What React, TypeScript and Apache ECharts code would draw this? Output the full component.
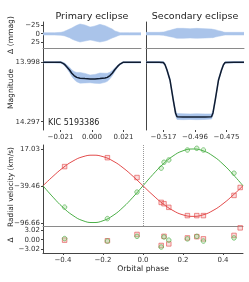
import React, { useEffect, useRef } from "react";
import * as echarts from "echarts";

// ---------- data ----------
// Primary eclipse: phase grid, model magnitude, residual envelope (mmag)
const P_PH = [-0.0327, -0.025, -0.0207, -0.019, -0.018, -0.0169, -0.015, -0.0135, -0.012, -0.0102, -0.008, -0.0047, -0.0013, 0, 0.002, 0.0053, 0.0087, 0.0102, 0.012, 0.0135, 0.0153, 0.0169, 0.0187, 0.0207, 0.025, 0.0327];
const P_MAG = [13.998, 13.998, 13.998, 14.005, 14.011, 14.02, 14.037, 14.053, 14.065, 14.074, 14.078, 14.08, 14.082, 14.082, 14.082, 14.08, 14.077, 14.074, 14.065, 14.053, 14.034, 14.02, 14.007, 13.998, 13.998, 13.998];
const P_RES_NEG = [-3, -3, -4, -6, -8, -10, -14, -17, -21, -25, -29, -26, -20, -21, -23, -28, -24, -21, -17, -14, -8, -6, -3, -3, -3, -3];
const P_RES_POS = [4, 4, 5, 6, 7, 9, 12, 16, 19, 22, 25, 22, 19, 20, 22, 25, 22, 20, 16, 13, 10, 7, 4, 4, 4, 4];

// Secondary eclipse
const S_PH = [-0.5287, -0.52, -0.5171, -0.516, -0.5147, -0.5127, -0.5105, -0.509, -0.508, -0.504, -0.4993, -0.495, -0.4893, -0.485, -0.484, -0.4825, -0.4803, -0.4783, -0.477, -0.4759, -0.47, -0.4633];
const S_MAG = [13.998, 13.998, 13.999, 14.01, 14.037, 14.087, 14.188, 14.253, 14.272, 14.273, 14.273, 14.273, 14.273, 14.272, 14.253, 14.188, 14.087, 14.037, 14.01, 13.999, 13.998, 13.998];
const S_RES_NEG = [-4, -4, -5, -6, -8, -10, -13, -15, -16, -16, -15, -16, -15, -14, -13, -12, -9, -7, -5, -4, -4, -4];
const S_RES_POS = [4, 4, 5, 6, 7, 9, 11, 13, 14, 14, 13, 14, 13, 12, 12, 10, 8, 6, 5, 4, 4, 4];

// Radial velocity model curves
const RV_PH = [-0.5, -0.45, -0.4, -0.35, -0.3, -0.25, -0.2, -0.15, -0.1, -0.05, 0, 0.05, 0.1, 0.15, 0.2, 0.25, 0.3, 0.35, 0.4, 0.45, 0.5];
const RV_RED = [-39.46, -24.94, -11.82, -1.44, 5.24, 7.54, 5.24, -1.44, -11.82, -24.94, -39.46, -53.98, -67.1, -77.48, -84.16, -86.46, -84.16, -77.48, -67.1, -53.98, -39.46];
const RV_GREEN = [-39.46, -56.92, -72.68, -85.17, -93.19, -95.96, -93.19, -85.17, -72.68, -56.92, -39.46, -22.0, -6.24, 6.25, 14.27, 17.04, 14.27, 6.25, -6.24, -22.0, -39.46];

// Observations
const OBS_RED_PH = [-0.392, -0.178, -0.03, 0.091, 0.105, 0.129, 0.222, 0.269, 0.302, 0.455, 0.486];
const OBS_RED_RV = [-10.0, 3.7, -26.8, -65.0, -67.0, -72.6, -85.3, -85.3, -85.3, -54.3, -42.1];
const OBS_RED_RES = [-0.2, -0.4, 1.6, -1.9, 1.0, -1.4, 0.5, 0.9, 0.2, 1.3, 3.7];
const OBS_GREEN_PH = [-0.392, -0.178, -0.03, 0.091, 0.105, 0.129, 0.222, 0.269, 0.302, 0.455];
const OBS_GREEN_RV = [-72.3, -89.9, -49.1, -12.4, -3.3, 0.2, 15.5, 18.1, 15.5, -20.1];
const OBS_GREEN_RES = [0.3, -0.5, 1.0, -2.4, 0.8, -0.2, 0.2, 1.0, -0.5, 0.5];

// Tick labels
const P_XTICKS = [-0.021, 0, 0.021];
const S_XTICKS = [-0.517, -0.496, -0.475];
const RES_YTICKS = [-25, 0, 25];
const MAG_YTICKS = [13.998, 14.297];
const RV_YTICKS = [17.03, -39.46, -96.66];
const RVRES_YTICKS = [3.02, 0, -3.02];
const PH_XTICKS = [-0.4, -0.2, 0, 0.2, 0.4];

// ---------- styles ----------
const FONT = "DejaVu Sans";
const BAND = "#aac4ea";
const MODEL = "#101c30";
const RED = "#e24b4b";
const GREEN = "#4caf48";
const SPINE = "#444";
const SEP = "#8a8a8a";

const minus = (s: string) => s.replace("-", "\u2212");

function band(xi: number, yi: number, ph: number[], lo: number[], hi: number[]) {
  return {
    type: "custom",
    xAxisIndex: xi,
    yAxisIndex: yi,
    silent: true,
    clip: true,
    data: [[ph[0], lo[0]]],
    renderItem: (_p: any, api: any) => {
      const pts: number[][] = [];
      for (let i = 0; i < ph.length; i++) pts.push(api.coord([ph[i], hi[i]]));
      for (let i = ph.length - 1; i >= 0; i--) pts.push(api.coord([ph[i], lo[i]]));
      return { type: "polygon", shape: { points: pts }, style: { fill: BAND, stroke: BAND, lineWidth: 0.5 } };
    },
  };
}

function xAxisDef(grid: number, min: number, max: number, opts: any = {}) {
  return {
    type: "value",
    gridIndex: grid,
    min,
    max,
    splitLine: { show: false },
    axisLine: { show: false, lineStyle: { color: SEP, width: 1 } },
    axisTick: { show: false },
    axisLabel: { show: false },
    ...opts,
  };
}

function yAxisDef(grid: number, min: number, max: number, opts: any = {}) {
  return {
    type: "value",
    gridIndex: grid,
    min,
    max,
    splitLine: { show: false },
    axisLine: { show: true, onZero: false, lineStyle: { color: SPINE, width: 1 } },
    axisTick: { show: false },
    axisLabel: { show: false },
    ...opts,
  };
}

function labels(values: number[], fmt: (v: number) => string) {
  return {
    axisLabel: {
      show: true,
      customValues: values,
      formatter: (v: number) => fmt(v),
      fontSize: 7,
      fontFamily: FONT,
      color: "#333",
      margin: 3,
    },
    axisTick: { show: true, customValues: values, length: 2, lineStyle: { color: SPINE } },
  };
}

export default function App() {
  const ref = useRef<HTMLDivElement>(null);
  useEffect(() => {
    if (!ref.current) return;
    const chart = echarts.init(ref.current, null, { renderer: "svg" });

    const pMagLo = P_MAG.map((m, i) => m + P_RES_NEG[i] / 1000);
    const pMagHi = P_MAG.map((m, i) => m + P_RES_POS[i] / 1000);
    const sMagLo = S_MAG.map((m, i) => m + S_RES_NEG[i] / 1000);
    const sMagHi = S_MAG.map((m, i) => m + S_RES_POS[i] / 1000);

    const zip = (a: number[], b: number[]) => a.map((v, i) => [v, b[i]]);

    const gridBase = { containLabel: false, outerBoundsMode: "none" };
    const option: any = {
      animation: false,
      textStyle: { fontFamily: FONT },
      grid: [
        { ...gridBase, left: 43, top: 22, width: 98, height: 26 },
        { ...gridBase, left: 146, top: 22, width: 98, height: 26 },
        { ...gridBase, left: 43, top: 48, width: 98, height: 82 },
        { ...gridBase, left: 146, top: 48, width: 98, height: 82 },
        { ...gridBase, left: 43, top: 145, width: 200, height: 81 },
        { ...gridBase, left: 43, top: 226, width: 200, height: 27 },
      ],
      xAxis: [
        xAxisDef(0, -0.0327, 0.0327, { axisLine: { show: true, onZero: false, lineStyle: { color: SEP } } }),
        xAxisDef(1, -0.5287, -0.4633, { axisLine: { show: true, onZero: false, lineStyle: { color: SEP } } }),
        xAxisDef(2, -0.0327, 0.0327, labels(P_XTICKS, (v) => minus(v.toFixed(3)))),
        xAxisDef(3, -0.5287, -0.4633, labels(S_XTICKS, (v) => minus(v.toFixed(3)))),
        xAxisDef(4, -0.5, 0.5, { axisLine: { show: true, onZero: false, lineStyle: { color: SEP } } }),
        xAxisDef(5, -0.5, 0.5, {
          ...labels(PH_XTICKS, (v) => minus(v.toFixed(1))),
          axisLine: { show: true, onZero: false, lineStyle: { color: SPINE } },
        }),
      ],
      yAxis: [
        yAxisDef(0, -35, 43, { inverse: true, ...labels(RES_YTICKS, (v) => minus(String(v))) }),
        yAxisDef(1, -35, 43, { inverse: true }),
        yAxisDef(2, 13.926, 14.339, { inverse: true, ...labels(MAG_YTICKS, (v) => v.toFixed(3)) }),
        yAxisDef(3, 13.926, 14.339, { inverse: true }),
        yAxisDef(4, -101.27, 23.17, labels(RV_YTICKS, (v) => minus(v.toFixed(2)))),
        yAxisDef(5, -4.29, 4.29, labels(RVRES_YTICKS, (v) => minus(v.toFixed(2)))),
      ],
      series: [
        band(0, 0, P_PH, P_RES_NEG, P_RES_POS),
        band(1, 1, S_PH, S_RES_NEG, S_RES_POS),
        band(2, 2, P_PH, pMagLo, pMagHi),
        band(3, 3, S_PH, sMagLo, sMagHi),
        {
          type: "line", xAxisIndex: 2, yAxisIndex: 2, data: zip(P_PH, P_MAG), showSymbol: false,
          lineStyle: { color: MODEL, width: 1.5 }, silent: true,
        },
        {
          type: "line", xAxisIndex: 3, yAxisIndex: 3, data: zip(S_PH, S_MAG), showSymbol: false,
          lineStyle: { color: MODEL, width: 1.5 }, silent: true,
        },
        {
          type: "line", xAxisIndex: 4, yAxisIndex: 4, data: zip(RV_PH, RV_RED), showSymbol: false, smooth: true,
          lineStyle: { color: RED, width: 1 }, silent: true,
          markLine: {
            silent: true, symbol: "none", label: { show: false },
            lineStyle: { type: "dotted", color: "#999", width: 1 },
            data: [{ xAxis: 0 }],
          },
        },
        {
          type: "line", xAxisIndex: 4, yAxisIndex: 4, data: zip(RV_PH, RV_GREEN), showSymbol: false, smooth: true,
          lineStyle: { color: GREEN, width: 1 }, silent: true,
        },
        {
          type: "scatter", xAxisIndex: 4, yAxisIndex: 4, data: zip(OBS_RED_PH, OBS_RED_RV), symbol: "rect", symbolSize: 4.5,
          itemStyle: { color: "rgba(240,160,160,0.45)", borderColor: RED, borderWidth: 0.8 },
        },
        {
          type: "scatter", xAxisIndex: 4, yAxisIndex: 4, data: zip(OBS_GREEN_PH, OBS_GREEN_RV), symbol: "circle", symbolSize: 4.5,
          itemStyle: { color: "rgba(160,220,150,0.45)", borderColor: GREEN, borderWidth: 0.8 },
        },
        {
          type: "scatter", xAxisIndex: 5, yAxisIndex: 5, data: zip(OBS_RED_PH, OBS_RED_RES), symbol: "rect", symbolSize: 4.5,
          itemStyle: { color: "rgba(240,160,160,0.45)", borderColor: RED, borderWidth: 0.8 },
        },
        {
          type: "scatter", xAxisIndex: 5, yAxisIndex: 5, data: zip(OBS_GREEN_PH, OBS_GREEN_RES), symbol: "circle", symbolSize: 4.5,
          itemStyle: { color: "rgba(160,220,150,0.45)", borderColor: GREEN, borderWidth: 0.8 },
        },
      ],
      graphic: [
        { type: "text", x: 92, y: 15, style: { text: "Primary eclipse", fontSize: 9.5, fontFamily: FONT, fill: "#222", align: "center", verticalAlign: "middle" } },
        { type: "text", x: 195, y: 15, style: { text: "Secondary eclipse", fontSize: 9.5, fontFamily: FONT, fill: "#222", align: "center", verticalAlign: "middle" } },
        { type: "text", x: 10, y: 35, rotation: Math.PI / 2, style: { text: "\u0394 (mmag)", fontSize: 7.6, fontFamily: FONT, fill: "#222", align: "center", verticalAlign: "middle" } },
        { type: "text", x: 10, y: 89, rotation: Math.PI / 2, style: { text: "Magnitude", fontSize: 7.6, fontFamily: FONT, fill: "#222", align: "center", verticalAlign: "middle" } },
        { type: "text", x: 10, y: 187, rotation: Math.PI / 2, style: { text: "Radial velocity (km/s)", fontSize: 7.4, fontFamily: FONT, fill: "#222", align: "center", verticalAlign: "middle" } },
        { type: "text", x: 10, y: 240, rotation: Math.PI / 2, style: { text: "\u0394", fontSize: 7.6, fontFamily: FONT, fill: "#222", align: "center", verticalAlign: "middle" } },
        { type: "text", x: 143, y: 268, style: { text: "Orbital phase", fontSize: 7.7, fontFamily: FONT, fill: "#222", align: "center", verticalAlign: "middle" } },
        { type: "text", x: 48, y: 122, style: { text: "KIC 5193386", fontSize: 8, fontFamily: FONT, fill: "#222", align: "left", verticalAlign: "middle" } },
      ],
    };
    chart.setOption(option);
    return () => chart.dispose();
  }, []);
  return <div ref={ref} style={{ position: "fixed", left: 0, top: 0, width: 249, height: 282 }} />;
}
